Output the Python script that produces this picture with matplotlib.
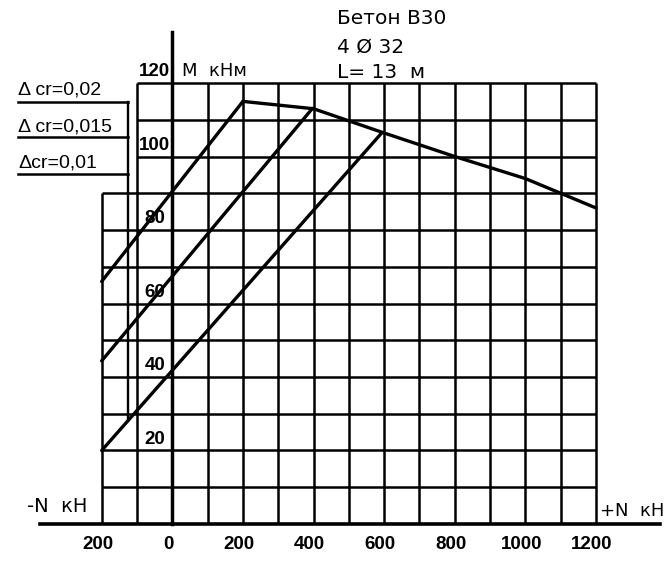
import numpy as np
import matplotlib
matplotlib.use("Agg")
import matplotlib.pyplot as plt

# --- data (N in kN, M in kNm) ---
n_d002 = [-200, 200]
m_d002 = [66, 115]
n_d0015 = [-200, 397]
m_d0015 = [44.4, 113.1]
n_d001 = [-200, 593]
m_d001 = [20, 106.4]

# envelope (failure curve)
n_env = [200, 400, 600, 800, 1000, 1100, 1200]
m_env = [115, 113, 106.4, 100, 94, 90, 86]

x_ticks = [-200, 0, 200, 400, 600, 800, 1000, 1200]
x_tick_labels = ["200", "0", "200", "400", "600", "800", "1000", "1200"]
y_ticks = [20, 40, 60, 80, 100, 120]
y_tick_labels = ["20", "40", "60", "80", "100", "120"]
legend_labels = ["Δ cr=0,02", "Δ cr=0,015", "Δcr=0,01"]
legend_levels = [114.9, 105.4, 95.2]

W, H = 668, 570
NARROW = ["Liberation Sans Narrow", "Liberation Sans", "DejaVu Sans"]
ARIAL = ["Liberation Sans", "DejaVu Sans"]


def px(x, y):
    return x / W, 1 - y / H


fig = plt.figure(figsize=(W / 100, H / 100), dpi=100)
fig.patch.set_facecolor("white")
ax = fig.add_axes([0, 0, 1, 1])
ax.set_xlim(-488, 1404)
ax.set_ylim(-12.52, 142.59)
ax.axis("off")

grid_kw = dict(color="black", lw=1.8, solid_capstyle="butt")

# horizontal grid lines
for m in range(10, 130, 10):
    x0 = -200 if m <= 90 else -100
    ax.plot([x0, 1200], [m, m], **grid_kw)

# vertical grid lines
ax.plot([-200, -200], [0, 90], **grid_kw)
for n in range(-100, 1300, 100):
    if n == 0:
        continue
    ax.plot([n, n], [0, 120], **grid_kw)

# axes
ax.plot([0, 0], [0, 134], color="black", lw=2.5)
ax.plot([-375, 1381], [0, 0], color="black", lw=2.6)

# legend underlines + bracket
for lvl in legend_levels:
    ax.plot([-437, -125], [lvl, lvl], color="black", lw=1.8)
ax.plot([-125, -125], [legend_levels[0], 28], color="black", lw=1.7)

# curves
line_kw = dict(color="black", lw=2.4, solid_capstyle="round")
ax.plot(n_d002, m_d002, **line_kw)
ax.plot(n_d0015, m_d0015, **line_kw)
ax.plot(n_d001, m_d001, **line_kw)
ax.plot(n_env, m_env, **line_kw)

# tick labels
for n, lbl in zip(x_ticks, x_tick_labels):
    ax.annotate(lbl, (n, 0), xytext=(-3, -15), textcoords="offset points",
                ha="center", va="center", fontsize=13.5, fontweight="bold",
                family=ARIAL)
for m, lbl in zip(y_ticks, y_tick_labels):
    fam = NARROW if m >= 100 else ARIAL
    ax.annotate(lbl, (-50, m), xytext=(0, 8), textcoords="offset points",
                ha="center", va="center", fontsize=13.5, fontweight="bold",
                family=fam)

# legend texts
for (y, lbl) in zip([90, 127, 163], legend_labels):
    fig.text(*px(18, y), lbl, ha="left", va="center", fontsize=14,
             family=NARROW)

# annotations
fig.text(*px(337, 18), "Бетон В30", ha="left", va="center", fontsize=14.5)
fig.text(*px(337, 47.5), "4 Ø 32", ha="left", va="center", fontsize=14.5)
fig.text(*px(337, 72.5), "L= 13  м", ha="left", va="center", fontsize=14.5)
fig.text(*px(182, 71), "M  кНм", ha="left", va="center", fontsize=13)
fig.text(*px(27, 507), "-N  кН", ha="left", va="center", fontsize=14)
fig.text(*px(600, 511), "+N  кН", ha="left", va="center", fontsize=13)

fig.savefig("out.png", dpi=100, facecolor="white")
